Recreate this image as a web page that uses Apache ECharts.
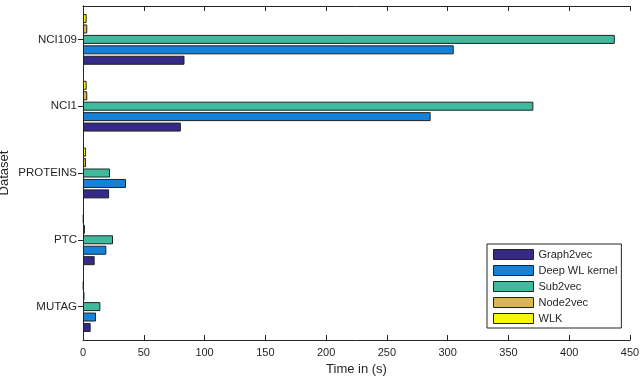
<!DOCTYPE html>
<html>
<head>
<meta charset="utf-8">
<script src="https://cdn.jsdelivr.net/npm/echarts@6/dist/echarts.min.js"></script>
<style>
  html, body { margin: 0; padding: 0; background: #fff; }
  #chart { width: 640px; height: 383px; }
</style>
</head>
<body>
<div id="chart"></div>
<script>
// datasets, bottom to top
const datasets = ['MUTAG', 'PTC', 'PROTEINS', 'NCI1', 'NCI109'];

// time in seconds
const graph2vec = [6.3, 9.6, 21.5, 80.5, 83.5];
const deepWL = [10.7, 19.2, 35.4, 286, 305];
const sub2vec = [14.3, 24.7, 22.2, 370.5, 437.5];
const node2vec = [1.2, 1.6, 2.5, 3.5, 3.5];
const wlk = [0.5, 0.5, 2.5, 3, 3];

const seriesNames = ['Graph2vec', 'Deep WL kernel', 'Sub2vec', 'Node2vec', 'WLK'];
const seriesData = [graph2vec, deepWL, sub2vec, node2vec, wlk];
const colors = ['#352a87', '#1482d9', '#3dbb9c', '#d9b84f', '#f5f50f'];

const font = 'Liberation Sans';
const ink = '#262626';

const chart = echarts.init(document.getElementById('chart'));

// echarts stacks the first series at the top of a group, matlab at the bottom
const order = [4, 3, 2, 1, 0];

chart.setOption({
	animation: false,
	textStyle: { fontFamily: font },
	grid: { left: 83, right: 10, top: 6, bottom: 43, outerBoundsMode: 'none', containLabel: false },
	legend: {
		data: seriesNames,
		orient: 'vertical',
		left: 487,
		top: 244,
		icon: 'rect',
		itemWidth: 40,
		itemHeight: 10,
		itemGap: 5,
		padding: [5, 4, 4, 6],
		borderColor: ink,
		borderWidth: 1,
		backgroundColor: '#fff',
		textStyle: { fontFamily: font, fontSize: 11, color: ink, padding: [0, 0, 0, 0] },
		itemStyle: { borderColor: '#222', borderWidth: 1 }
	},
	xAxis: [
		{
			type: 'value',
			min: 0,
			max: 450,
			interval: 50,
			name: 'Time in (s)',
			nameLocation: 'middle',
			nameGap: 20,
			nameTextStyle: { fontFamily: font, fontSize: 13, color: ink },
			axisLine: { show: true, lineStyle: { color: ink, width: 1 } },
			axisTick: { show: true, inside: true, length: 5, lineStyle: { color: ink } },
			axisLabel: { fontFamily: font, fontSize: 11, color: ink, margin: 7 },
			splitLine: { show: false }
		},
		{
			type: 'value',
			position: 'top',
			min: 0,
			max: 450,
			interval: 50,
			axisLine: { show: true, lineStyle: { color: ink, width: 1 } },
			axisTick: { show: true, inside: true, length: 5, lineStyle: { color: ink } },
			axisLabel: { show: false },
			splitLine: { show: false }
		}
	],
	yAxis: [
		{
			type: 'category',
			data: datasets,
			name: 'Dataset',
			nameLocation: 'middle',
			nameGap: 72,
			nameMoveOverlap: false,
			nameTextStyle: { fontFamily: font, fontSize: 13, color: ink },
			axisLine: { show: true, lineStyle: { color: ink, width: 1 } },
			axisTick: { show: false },
			axisLabel: { fontFamily: font, fontSize: 11.5, color: ink, margin: 6 }
		},
		{
			type: 'category',
			data: datasets,
			position: 'right',
			axisLine: { show: true, lineStyle: { color: ink, width: 1 } },
			axisTick: { show: true, inside: true, alignWithLabel: true, length: 5, lineStyle: { color: ink } },
			axisLabel: { show: false }
		}
	],
	series: order.map(i => ({
		name: seriesNames[i],
		type: 'bar',
		xAxisIndex: 0,
		yAxisIndex: 0,
		data: seriesData[i],
		barWidth: 9,
		barGap: '16%',
		itemStyle: { color: colors[i], borderColor: '#222', borderWidth: 1 }
	}))
});
</script>
</body>
</html>
